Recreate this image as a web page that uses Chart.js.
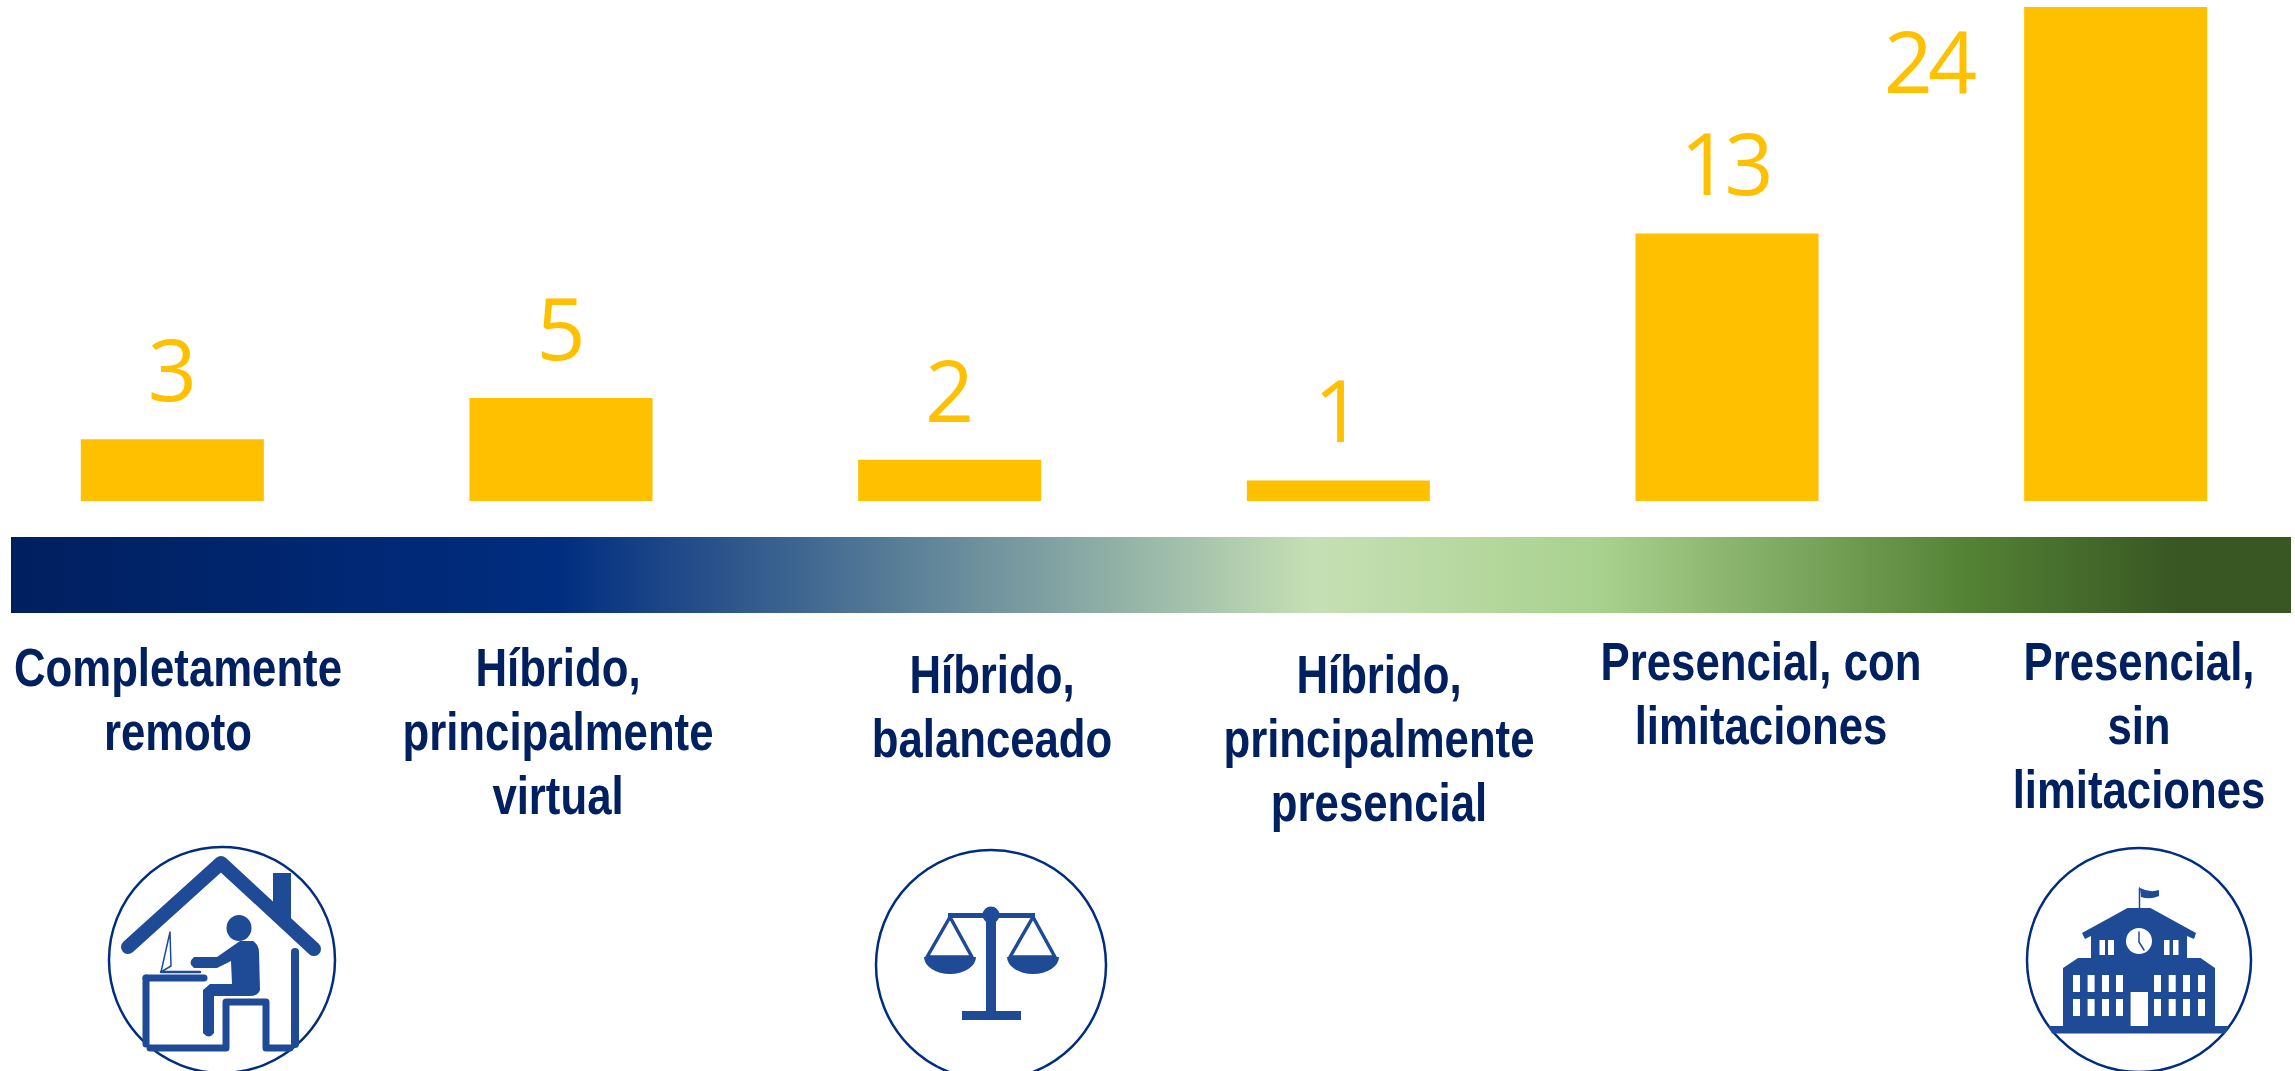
<!DOCTYPE html>
<html lang="es">

<head>
    <meta charset="UTF-8">
    <title>Modalidad</title>
    <script src="https://cdn.jsdelivr.net/npm/chart.js"></script>
    <style>
        html, body {
            margin: 0;
            background: #fff;
            overflow: hidden;
        }

        #pagina {
            position: relative;
            width: 2295px;
            height: 1071px;
            overflow: hidden;
        }

        /* el lienzo sobresale a la izquierda para que las barras caigan donde van */
        #grafico {
            position: absolute;
            left: -22px;
            top: 0;
        }

        #degradado {
            position: absolute;
            left: 11px;
            top: 537px;
            width: 2280px;
            height: 76px;
            background: linear-gradient(to right,
                    #001f5f 0%, #002d80 24%, #c5e0b4 57.2%, #a9d18e 69.7%,
                    #548235 85.8%, #385723 95%, #385723 100%);
        }

        .cat {
            position: absolute;
            width: 500px;
            margin-left: -250px;
            text-align: center;
            font-family: "Liberation Sans", sans-serif;
            font-weight: bold;
            font-size: 53px;
            line-height: 64px;
            color: #002060;
            /* no hay Arial Narrow instalada: se angosta la Liberation */
            transform: scaleX(0.825);
        }

        #cat0 { left: 178px; top: 636px; }
        #cat1 { left: 558px; top: 636px; }
        #cat2 { left: 992px; top: 643px; }
        #cat3 { left: 1379px; top: 643px; }
        #cat4 { left: 1761px; top: 630px; }
        #cat5 { left: 2139px; top: 630px; }

        #iconos {
            position: absolute;
            left: 0;
            top: 0;
        }

        #iconos .aro {
            fill: none;
            stroke: #002d80;
            stroke-width: 2.5;
        }

        #iconos .trazo {
            fill: none;
            stroke: #1f4a96;
            stroke-linecap: round;
            stroke-linejoin: round;
        }

        #iconos .lleno {
            fill: #1f4a96;
        }

        #iconos .hueco {
            fill: #fff;
        }
    </style>
</head>

<body>
    <div id="pagina">
        <canvas id="grafico" width="2332" height="501"></canvas>
        <div id="degradado"></div>
        <div id="etiquetas"></div>

        <svg id="iconos" width="2295" height="1071">
            <!-- casa -->
            <circle class="aro" cx="222" cy="960" r="113" />
            <polyline class="trazo" stroke-width="14" points="128,947 221,863 314,949" />
            <rect class="lleno" x="273" y="873" width="18" height="48" />
            <ellipse class="lleno" cx="239" cy="928" rx="12.5" ry="13" />
            <path class="lleno"
                d="M194 957 L217 957 L240 941 L253 941 Q259 945 259 952 L260 990 Q258 996 250 996 L214 996 L214 1033 Q209 1040 203 1033 L203 990 L210 984 L232 984 L231 961 L217 968 L194 968 Q187 963 194 957 Z" />
            <polyline class="trazo" stroke-width="1.5" points="170,932 161,972 171,966 170,932" />
            <line class="trazo" stroke-width="2.5" x1="161" y1="972" x2="200" y2="972" />
            <line class="trazo" stroke-width="7" x1="146" y1="978" x2="204" y2="978" />
            <line class="trazo" stroke-width="7" x1="146" y1="978" x2="146" y2="1044" />
            <polyline class="trazo" stroke-width="7" points="150,1048 226,1048 226,1002 266,1002 266,1048 290,1048" />
            <line class="trazo" stroke-width="8" x1="295" y1="952" x2="295" y2="1044" />

            <!-- balanza -->
            <circle class="aro" cx="991" cy="965" r="115" />
            <rect class="lleno" x="986" y="912" width="10" height="102" />
            <rect class="lleno" x="962" y="1011" width="59" height="9" />
            <ellipse class="lleno" cx="991" cy="915" rx="8.5" ry="8.5" />
            <rect class="lleno" x="948" y="913" width="87" height="5" />
            <polyline class="trazo" stroke-width="3.5" points="927,957 950,917 972,957 927,957" />
            <polyline class="trazo" stroke-width="3.5" points="1010,957 1033,917 1055,957 1010,957" />
            <path class="lleno" d="M924 957 A26 17 0 0 0 976 957 Z" />
            <path class="lleno" d="M1007 957 A26 17 0 0 0 1059 957 Z" />

            <!-- escuela -->
            <circle class="aro" cx="2139" cy="960" r="112" />
            <line class="trazo" stroke-width="1.5" x1="2139.5" y1="888" x2="2139.5" y2="908" />
            <path class="lleno" d="M2140 888 Q2150 893 2159 890 L2159 896 Q2150 900 2141 897 Z" />
            <path class="lleno"
                d="M2127.5 908 L2150.5 908 L2196 933 L2194 939 L2187 936 L2187 958 L2200.6 958 L2215 968 L2215 1026 L2229 1026 L2225 1033.5 L2052 1033.5 L2048 1026 L2063 1026 L2063 968 L2078 958 L2091 958 L2091 936 L2085 939 L2082 933 Z" />
            <circle class="hueco" cx="2139" cy="941" r="13" />
            <polyline class="trazo" stroke-width="1.5" points="2139,932 2139,942 2144,950" />
            <g class="hueco">
                <rect x="2099.5" y="940" width="5.5" height="15" />
                <rect x="2108" y="940" width="6" height="15" />
                <rect x="2164" y="940" width="5.5" height="15" />
                <rect x="2173" y="940" width="5.5" height="15" />
                <rect x="2130.6" y="992" width="17.4" height="34" />
            </g>
            <g id="ventanas" class="hueco"></g>
        </svg>
    </div>

    <script>
        const categorias = [
            ['Completamente', 'remoto'],
            ['Híbrido,', 'principalmente', 'virtual'],
            ['Híbrido,', 'balanceado'],
            ['Híbrido,', 'principalmente', 'presencial'],
            ['Presencial, con', 'limitaciones'],
            ['Presencial,', 'sin', 'limitaciones']
        ];
        const valores = [3, 5, 2, 1, 13, 24];
        const colorBarra = '#ffc000';

        // etiquetas de categoria, cada una con su posicion en el css
        const contenedor = document.getElementById('etiquetas');
        categorias.forEach(function (lineas, i) {
            const div = document.createElement('div');
            div.className = 'cat';
            div.id = 'cat' + i;
            div.innerHTML = lineas.join('<br>');
            contenedor.appendChild(div);
        });

        // ventanas del edificio
        const colVentanas = [2073, 2087.6, 2102, 2116, 2154, 2168.7, 2183, 2198];
        const filaVentanas = [975, 999];
        const gVentanas = document.getElementById('ventanas');
        filaVentanas.forEach(function (y) {
            colVentanas.forEach(function (x) {
                const r = document.createElementNS('http://www.w3.org/2000/svg', 'rect');
                r.setAttribute('x', x);
                r.setAttribute('y', y);
                r.setAttribute('width', 7);
                r.setAttribute('height', 17);
                gVentanas.appendChild(r);
            });
        });

        // numeros sobre las barras; si no caben arriba van a la izquierda
        const numeros = {
            id: 'numeros',
            afterDatasetsDraw(chart) {
                const ctx = chart.ctx;
                const puntos = chart.getDatasetMeta(0).data;
                ctx.save();
                ctx.fillStyle = colorBarra;
                ctx.font = '86px "Open Sans", sans-serif';
                ctx.letterSpacing = '-5px';
                ctx.textBaseline = 'alphabetic';
                puntos.forEach(function (barra, i) {
                    const texto = String(valores[i]);
                    if (barra.y - 38 - 62 < 0) {
                        ctx.textAlign = 'right';
                        ctx.fillText(texto, barra.x - barra.width / 2 - 52, barra.y + 85.5);
                    } else {
                        ctx.textAlign = 'center';
                        ctx.fillText(texto, barra.x - 2.5, barra.y - 38);
                    }
                });
                ctx.restore();
            }
        };

        new Chart(document.getElementById('grafico').getContext('2d'), {
            type: 'bar',
            data: {
                labels: categorias,
                datasets: [{
                    data: valores,
                    backgroundColor: colorBarra,
                    barPercentage: 0.471,
                    categoryPercentage: 1
                }]
            },
            options: {
                responsive: false,
                animation: false,
                layout: { padding: { top: 7 } },
                plugins: {
                    legend: { display: false },
                    tooltip: { enabled: false }
                },
                scales: {
                    x: { display: false },
                    y: { display: false, min: 0, max: 24 }
                }
            },
            plugins: [numeros]
        });
    </script>
</body>

</html>
